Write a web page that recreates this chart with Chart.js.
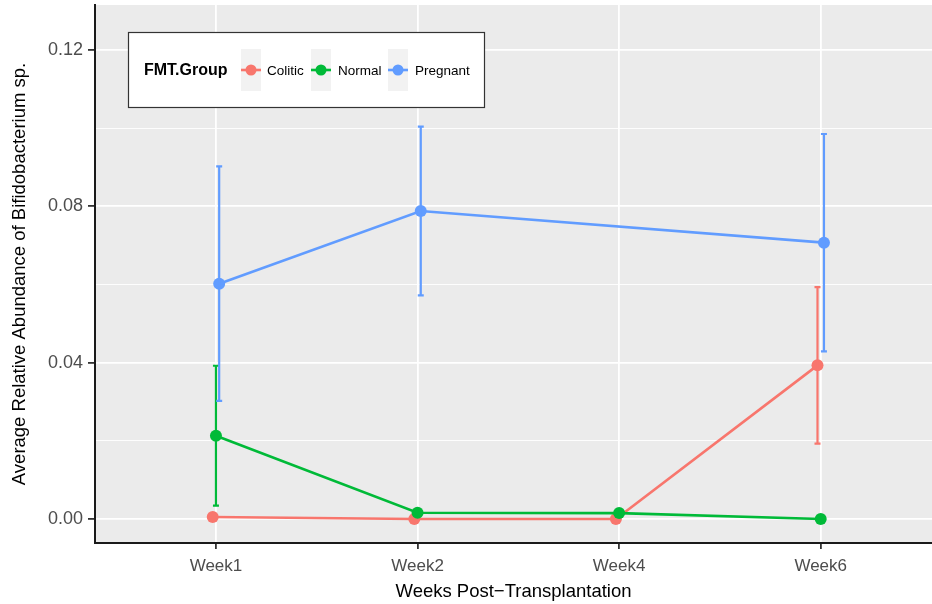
<!DOCTYPE html>
<html>
<head>
<meta charset="utf-8">
<script src="https://cdn.jsdelivr.net/npm/chart.js@4/dist/chart.umd.min.js"></script>
<style>
  html, body { margin: 0; padding: 0; background: #ffffff; overflow: hidden; }
  #wrap { width: 932px; height: 604px; overflow: hidden; }
  canvas { display: block; }
</style>
</head>
<body>
<div id="wrap"><canvas id="c" width="932" height="604"></canvas></div>
<script>
// Sampling weeks after transplantation
const WEEKS = ['Week1', 'Week2', 'Week4', 'Week6'];

// Mean relative abundance of Bifidobacterium sp. per FMT group (null = not sampled)
const COLITIC_MEAN  = [0.0005, 0.0000, 0.0000, 0.0393];
const NORMAL_MEAN   = [0.0213, 0.0016, 0.0015, 0.0000];
const PREGNANT_MEAN = [0.0602, 0.0788, null,   0.0707];

// Error bar half-widths (null = no bar drawn)
const COLITIC_ERR  = [null,   null,   null, 0.0200];
const NORMAL_ERR   = [0.0179, null,   null, null];
const PREGNANT_ERR = [0.0300, 0.0216, null, 0.0278];

// Y axis ticks
const Y_MAJOR = [0.00, 0.04, 0.08, 0.12];
const Y_MINOR = [0.02, 0.06, 0.10];

const FONT = "'Liberation Sans', Arial, Helvetica, sans-serif";
const COLORS = { Colitic: '#F8766D', Normal: '#00BA38', Pregnant: '#619CFF' };
const DODGE = { Colitic: -0.016, Normal: 0, Pregnant: 0.016 };

function isMajor(v) { return Y_MAJOR.some(m => Math.abs(m - v) < 1e-9); }

function series(name, means, errs, order) {
  const pts = [];
  means.forEach((m, i) => {
    if (m === null) return;
    pts.push({ x: i + 1 + DODGE[name], y: m, err: errs[i] });
  });
  return {
    label: name,
    data: pts,
    order: order,
    borderColor: COLORS[name],
    backgroundColor: COLORS[name],
    borderWidth: 2.6,
    pointRadius: 6,
    pointHoverRadius: 6,
    pointBorderWidth: 0,
    tension: 0,
    spanGaps: true
  };
}

// Scales keep exactly the size set in afterFit, with no extra label padding
function fixPadding(s) {
  s.paddingTop = 0; s.paddingBottom = 0; s.paddingLeft = 0; s.paddingRight = 0;
}

// Grey panel behind the grid
const panelBg = {
  id: 'panelBg',
  beforeDraw(chart) {
    const { ctx, chartArea: a } = chart;
    ctx.save();
    ctx.fillStyle = '#EBEBEB';
    ctx.fillRect(a.left, a.top, a.right - a.left, a.bottom - a.top);
    ctx.restore();
  }
};

// Vertical error bars with small caps, drawn with each dataset
const errorBars = {
  id: 'errorBars',
  afterDatasetDraw(chart, args) {
    const ds = chart.data.datasets[args.index];
    const xs = chart.scales.x, ys = chart.scales.y;
    const ctx = chart.ctx;
    ctx.save();
    ctx.strokeStyle = ds.borderColor;
    ctx.lineWidth = 2.2;
    ds.data.forEach(p => {
      if (p.err === null || p.err === undefined) return;
      const x = xs.getPixelForValue(p.x);
      const y1 = ys.getPixelForValue(p.y - p.err);
      const y2 = ys.getPixelForValue(p.y + p.err);
      ctx.beginPath();
      ctx.moveTo(x, y1); ctx.lineTo(x, y2);
      ctx.moveTo(x - 3, y1); ctx.lineTo(x + 3, y1);
      ctx.moveTo(x - 3, y2); ctx.lineTo(x + 3, y2);
      ctx.stroke();
    });
    ctx.restore();
  }
};

// Boxed horizontal legend inside the panel
const groupLegend = {
  id: 'groupLegend',
  afterDraw(chart) {
    const ctx = chart.ctx;
    ctx.save();
    ctx.fillStyle = '#ffffff';
    ctx.fillRect(128, 32, 357, 76);
    ctx.strokeStyle = '#333333';
    ctx.lineWidth = 1.2;
    ctx.strokeRect(128.5, 32.5, 356, 75);

    ctx.fillStyle = '#000000';
    ctx.font = 'bold 16px ' + FONT;
    ctx.textBaseline = 'middle';
    ctx.textAlign = 'left';
    ctx.fillText('FMT.Group', 144, 71);

    const keys = [
      { name: 'Colitic', kx: 241, tx: 267 },
      { name: 'Normal', kx: 311, tx: 338 },
      { name: 'Pregnant', kx: 388, tx: 415 }
    ];
    keys.forEach(k => {
      ctx.fillStyle = '#F2F2F2';
      ctx.fillRect(k.kx, 49, 20, 42);
      ctx.strokeStyle = COLORS[k.name];
      ctx.lineWidth = 2.6;
      ctx.beginPath();
      ctx.moveTo(k.kx, 70); ctx.lineTo(k.kx + 20, 70);
      ctx.stroke();
      ctx.fillStyle = COLORS[k.name];
      ctx.beginPath();
      ctx.arc(k.kx + 10, 70, 5.5, 0, Math.PI * 2);
      ctx.fill();
      ctx.fillStyle = '#000000';
      ctx.font = '13.5px ' + FONT;
      ctx.fillText(k.name, k.tx, 71);
    });
    ctx.restore();
  }
};

new Chart(document.getElementById('c'), {
  type: 'line',
  data: {
    datasets: [
      series('Pregnant', PREGNANT_MEAN, PREGNANT_ERR, 0),
      series('Normal', NORMAL_MEAN, NORMAL_ERR, 1),
      series('Colitic', COLITIC_MEAN, COLITIC_ERR, 2)
    ]
  },
  options: {
    responsive: false,
    devicePixelRatio: 1,
    animation: false,
    layout: { autoPadding: false, padding: { top: 5, left: 0, right: 0, bottom: 0 } },
    plugins: { legend: { display: false }, tooltip: { enabled: false } },
    scales: {
      x: {
        type: 'linear',
        min: 0.4,
        max: 4.552,
        afterBuildTicks: s => { s.ticks = WEEKS.map((w, i) => ({ value: i + 1 })); },
        afterFit: s => { s.height = 61; fixPadding(s); },
        ticks: {
          autoSkip: false,
          maxRotation: 0,
          padding: 7,
          color: '#4D4D4D',
          font: { family: FONT, size: 17 },
          callback: (v) => WEEKS[Math.round(v) - 1]
        },
        grid: {
          color: '#ffffff',
          lineWidth: 1.8,
          drawTicks: true,
          tickLength: 6,
          tickColor: '#333333',
          tickWidth: 1.8
        },
        border: { display: true, color: '#1a1a1a', width: 2 },
        title: {
          display: true,
          text: 'Weeks Post\u2212Transplantation',
          color: '#000000',
          font: { family: FONT, size: 18.5, lineHeight: 1.2 },
          padding: { top: 0, bottom: 0.5 }
        }
      },
      y: {
        type: 'linear',
        min: -0.00615,
        max: 0.1315,
        afterBuildTicks: s => {
          s.ticks = Y_MAJOR.concat(Y_MINOR).sort((a, b) => a - b).map(v => ({ value: v }));
        },
        afterFit: s => { s.width = 95; fixPadding(s); },
        ticks: {
          autoSkip: false,
          padding: 5,
          color: '#4D4D4D',
          font: { family: FONT, size: 18 },
          callback: (v) => isMajor(v) ? v.toFixed(2) : ''
        },
        grid: {
          color: '#ffffff',
          lineWidth: ctx => (ctx.tick && isMajor(ctx.tick.value)) ? 1.8 : 0.9,
          drawTicks: true,
          tickLength: 7,
          tickColor: ctx => (ctx.tick && isMajor(ctx.tick.value)) ? '#333333' : 'rgba(0,0,0,0)',
          tickWidth: 1.8
        },
        border: { display: true, color: '#1a1a1a', width: 2 },
        title: {
          display: true,
          text: 'Average Relative Abundance of Bifidobacterium sp.',
          color: '#000000',
          font: { family: FONT, size: 18.5, lineHeight: 1.2 },
          padding: { top: 9, bottom: 0 }
        }
      }
    }
  },
  plugins: [panelBg, errorBars, groupLegend]
});
</script>
</body>
</html>
